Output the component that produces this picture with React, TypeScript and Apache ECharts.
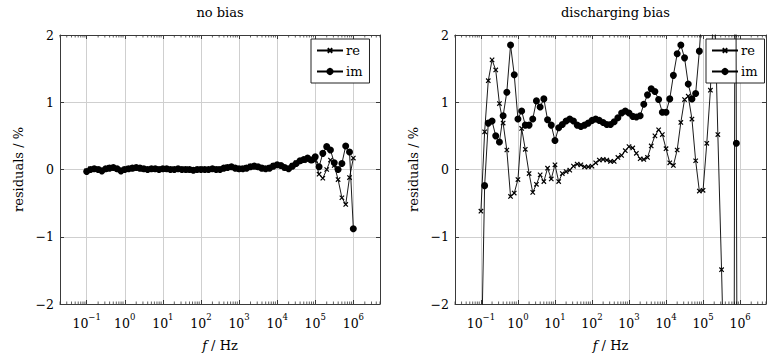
import React, { useEffect, useRef } from 'react';
import * as echarts from 'echarts';

// measurement frequencies in Hz
const FREQ = [
  0.1, 0.126, 0.158, 0.2, 0.251, 0.316, 0.398, 0.501, 0.631, 0.794,
  1, 1.26, 1.58, 2, 2.51, 3.16, 3.98, 5.01, 6.31, 7.94,
  10, 12.6, 15.8, 20, 25.1, 31.6, 39.8, 50.1, 63.1, 79.4,
  100, 126, 158, 200, 251, 316, 398, 501, 631, 794,
  1e3, 1.26e3, 1.58e3, 2e3, 2.51e3, 3.16e3, 3.98e3, 5.01e3, 6.31e3, 7.94e3,
  1e4, 1.26e4, 1.58e4, 2e4, 2.51e4, 3.16e4, 3.98e4, 5.01e4, 6.31e4, 7.94e4,
  1e5, 1.26e5, 1.58e5, 2e5, 2.51e5, 3.16e5, 3.98e5, 5.01e5, 6.31e5, 7.94e5,
  1e6,
];

// no bias
const RE_NOBIAS = [
  -0.02, 0.01, 0.0, 0.01, -0.01, 0.0, 0.03, 0.02, 0.0, -0.01,
  0.01, 0.02, 0.01, 0.02, 0.01, 0.0, 0.01, 0.0, 0.0, 0.01,
  0.0, 0.0, 0.01, 0.0, 0.0, 0.0, 0.01, -0.01, 0.0, 0.0,
  0.01, 0.0, 0.0, 0.0, 0.01, 0.01, 0.02, 0.04, 0.03, 0.02,
  0.0, 0.02, 0.03, 0.05, 0.04, 0.03, 0.01, 0.02, 0.03, 0.06,
  0.06, 0.05, 0.02, 0.02, 0.06, 0.1, 0.12, 0.14, 0.13, 0.15,
  0.13, -0.07, -0.13, 0.0, 0.14, 0.06, -0.15, -0.42, -0.52, -0.12,
  0.17,
];
const IM_NOBIAS = [
  -0.03, 0.0, 0.01, 0.0, -0.02, 0.01, 0.02, 0.03, 0.01, -0.02,
  0.0, 0.01, 0.02, 0.03, 0.02, 0.01, 0.0, 0.01, 0.01, 0.0,
  0.01, 0.01, 0.0, 0.0, 0.01, 0.0, 0.0, 0.0, -0.01, 0.0,
  0.0, 0.0, 0.0, 0.01, 0.0, 0.0, 0.02, 0.03, 0.04, 0.02,
  0.01, 0.01, 0.02, 0.04, 0.05, 0.04, 0.02, 0.01, 0.02, 0.05,
  0.07, 0.06, 0.03, 0.01, 0.05, 0.09, 0.13, 0.15, 0.17, 0.14,
  0.19, 0.04, 0.24, 0.34, 0.29, 0.1, 0.0, 0.09, 0.35, 0.26,
  -0.88,
];

// discharging bias
const RE_DIS = [
  -0.62, 0.56, 1.32, 1.63, 1.48, 0.98, 0.69, 0.29, -0.4, -0.35,
  -0.15, 0.61, 0.3, -0.06, -0.34, -0.22, -0.08, -0.18, 0.02, -0.14,
  0.07, -0.18, -0.06, -0.03, -0.01, 0.05, 0.08, 0.07, 0.04, 0.04,
  0.05, 0.1, 0.14, 0.15, 0.14, 0.12, 0.12, 0.18, 0.21, 0.28,
  0.34, 0.32, 0.24, 0.16, 0.15, 0.18, 0.35, 0.5, 0.59, 0.52,
  0.31, 0.1, 0.06, 0.29, 0.7, 1.04, 1.09, 0.75, 0.13, -0.32,
  -0.31, 0.39, 1.18, 2.7, 0.52, -1.49, -3.8, -8, -14, 14,
  10,
];
const IM_DIS = [
  -3.2, -0.24, 0.69, 0.72, 0.5, 0.41, 0.8, 1.15, 1.85, 1.41,
  0.75, 0.87, 0.66, 0.66, 0.75, 1.02, 0.93, 1.05, 0.74, 0.66,
  0.43, 0.62, 0.67, 0.72, 0.75, 0.72, 0.66, 0.64, 0.66, 0.69,
  0.73, 0.75, 0.73, 0.7, 0.67, 0.67, 0.71, 0.77, 0.84, 0.87,
  0.84, 0.79, 0.78, 0.8, 0.97, 1.11, 1.2, 1.16, 1.04, 0.85,
  0.85, 1.05, 1.4, 1.72, 1.85, 1.66, 1.27, 1.05, 1.13, 1.76,
  2.6, 3.8, 5.2, 6.5, 7.5, 9, 11, 14, 20, 0.39,
  -20,
];

const TITLES = ['no bias', 'discharging bias'];
const SERIES_NAMES = ['re', 'im'];
const Y_MIN = -2;
const Y_MAX = 2;
const DECADES = [-2, -1, 0, 1, 2, 3, 4, 5, 6];
const MINOR_MULT = [2, 3, 4, 5, 6, 7, 8, 9];

const FONT = "'DejaVu Serif', 'Liberation Serif', serif";
const FRAME = '#3a3a3a';
const GRID = '#cfcfcf';
const XMIN = Math.pow(10, -1.7);
const XMAX = Math.pow(10, 6.7);

// cross marker with padding (moveTo points widen the box so the cross is drawn smaller)
const CROSS = 'path://M-3,-3M13,13M0,0L10,10M10,0L0,10';

const minorTicks: number[][] = [];
DECADES.forEach((d) =>
  MINOR_MULT.forEach((m) => {
    const v = m * Math.pow(10, d);
    if (v > XMIN && v < XMAX) minorTicks.push([v, 0]);
  })
);

const minus = (s: string) => s.replace('-', '\u2212');

export default function App() {
  const ref = useRef<HTMLDivElement>(null);
  useEffect(() => {
    const chart = echarts.init(ref.current!, undefined, { renderer: 'svg' });
    const grids = [
      { left: 60, top: 35, width: 320, height: 275 },
      { left: 455, top: 35, width: 321, height: 275 },
    ];
    const xAxis: any[] = [];
    const yAxis: any[] = [];
    grids.forEach((_, g) => {
      xAxis.push({
        type: 'log',
        logBase: 10,
        gridIndex: g,
        min: XMIN,
        max: XMAX,
        splitNumber: 8,
        axisLine: { show: true, onZero: false, lineStyle: { color: FRAME, width: 1 } },
        axisTick: { show: true, inside: true, length: 4, lineStyle: { color: FRAME } },
        splitLine: { show: true, lineStyle: { color: GRID, width: 1 } },
        axisLabel: {
          interval: 0,
          margin: 8,
          color: '#000',
          formatter: (v: number) => {
            const e = Math.log10(v);
            const r = Math.round(e);
            if (Math.abs(e - r) > 1e-6) return '';
            return `{b|10}{s|${minus(String(r))}}`;
          },
          rich: {
            b: { fontFamily: FONT, fontSize: 12.5, lineHeight: 18, verticalAlign: 'bottom', color: '#000' },
            s: { fontFamily: FONT, fontSize: 8.5, lineHeight: 10, verticalAlign: 'top', color: '#000' },
          },
        },
        name: '{i|f} / Hz',
        nameLocation: 'middle',
        nameGap: 35,
        nameTextStyle: {
          color: '#000',
          fontFamily: FONT,
          fontSize: 13,
          rich: {
            i: { fontFamily: FONT, fontSize: 13, fontStyle: 'italic', color: '#000' },
          },
        },
      });
      xAxis.push({
        type: 'log',
        logBase: 10,
        gridIndex: g,
        position: 'top',
        min: XMIN,
        max: XMAX,
        splitNumber: 8,
        axisLine: { show: true, onZero: false, lineStyle: { color: FRAME, width: 1 } },
        axisTick: { show: true, inside: true, length: 4, lineStyle: { color: FRAME } },
        splitLine: { show: false },
        axisLabel: { show: false },
      });
      yAxis.push({
        type: 'value',
        gridIndex: g,
        min: Y_MIN,
        max: Y_MAX,
        interval: 1,
        axisLine: { show: true, onZero: false, lineStyle: { color: FRAME, width: 1 } },
        axisTick: { show: true, inside: true, length: 4, lineStyle: { color: FRAME } },
        splitLine: { show: true, lineStyle: { color: GRID, width: 1 } },
        axisLabel: {
          margin: 6,
          color: '#000',
          fontFamily: FONT,
          fontSize: 12.5,
          formatter: (v: number) => minus(String(v)),
        },
        name: 'residuals / %',
        nameLocation: 'middle',
        nameGap: 35,
        nameRotate: 90,
        nameTextStyle: { color: '#000', fontFamily: FONT, fontSize: 13 },
      });
      yAxis.push({
        type: 'value',
        gridIndex: g,
        position: 'right',
        min: Y_MIN,
        max: Y_MAX,
        interval: 1,
        axisLine: { show: true, onZero: false, lineStyle: { color: FRAME, width: 1 } },
        axisTick: { show: true, inside: true, length: 4, lineStyle: { color: FRAME } },
        splitLine: { show: false },
        axisLabel: { show: false },
      });
    });

    const data = [
      [RE_NOBIAS, IM_NOBIAS],
      [RE_DIS, IM_DIS],
    ];
    const series: any[] = [];
    data.forEach((pair, g) => {
      pair.forEach((vals, s) => {
        series.push({
          type: 'line',
          name: SERIES_NAMES[s],
          xAxisIndex: g * 2,
          yAxisIndex: g * 2,
          data: FREQ.map((f, i) => [f, vals[i]]),
          clip: true,
          symbol: s === 0 ? CROSS : 'circle',
          symbolSize: 7,
          showAllSymbol: true,
          lineStyle: { color: '#000', width: 0.9 },
          itemStyle:
            s === 0
              ? { color: 'rgba(0,0,0,0)', borderColor: '#000', borderWidth: 1.2 }
              : { color: '#000', borderColor: '#000', borderWidth: 0 },
          z: 3 + s,
        });
      });
      series.push({
        type: 'custom',
        name: 'minor',
        xAxisIndex: g * 2,
        yAxisIndex: g * 2,
        silent: true,
        data: minorTicks,
        z: 2,
        renderItem: (params: any, api: any) => {
          const f = api.value(0);
          const top = api.coord([f, Y_MAX]);
          const bot = api.coord([f, Y_MIN]);
          const st = { stroke: FRAME, lineWidth: 0.8 };
          return {
            type: 'group',
            children: [
              { type: 'line', shape: { x1: top[0], y1: top[1], x2: top[0], y2: top[1] + 2.5 }, style: st },
              { type: 'line', shape: { x1: bot[0], y1: bot[1], x2: bot[0], y2: bot[1] - 2.5 }, style: st },
            ],
          };
        },
      });
    });

    const legendBase = {
      data: SERIES_NAMES,
      orient: 'vertical',
      top: 39,
      backgroundColor: '#fff',
      borderColor: '#222',
      borderWidth: 1,
      borderRadius: 0,
      padding: [5, 7, 5, 5],
      itemGap: 8,
      itemWidth: 26,
      itemHeight: 9,
      selectedMode: false,
      textStyle: { fontFamily: FONT, fontSize: 13, color: '#000', padding: [0, 0, 0, -2] },
    };

    chart.setOption({
      animation: false,
      backgroundColor: '#fff',
      grid: grids.map((g) => ({ ...g, containLabel: false })),
      xAxis,
      yAxis,
      series,
      legend: [
        { ...legendBase, left: 311 },
        { ...legendBase, left: 706 },
      ],
      graphic: TITLES.map((t, g) => ({
        type: 'text',
        x: grids[g].left + grids[g].width / 2,
        y: 12,
        style: {
          text: t,
          align: 'center',
          verticalAlign: 'middle',
          font: `13px ${FONT}`,
          fill: '#000',
        },
      })),
    });
    return () => chart.dispose();
  }, []);
  return (
    <div
      ref={ref}
      style={{ position: 'absolute', left: 0, top: 0, width: 769, height: 357, overflow: 'hidden' }}
    />
  );
}
